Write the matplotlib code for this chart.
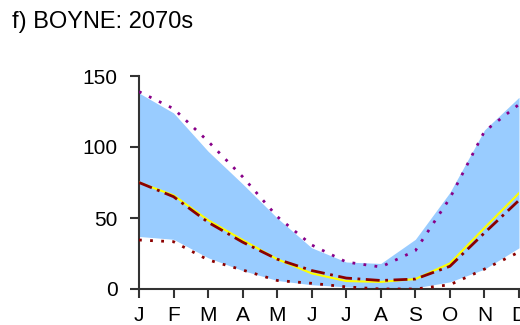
from matplotlib import pyplot as plt
import numpy as np

# monthly values
months = ["J", "F", "M", "A", "M", "J", "J", "A", "S", "O", "N", "D"]
band_high = [138, 124, 97, 74, 50, 29, 19, 18, 35, 68, 112, 135]
band_low = [37, 35, 22, 13, 6, 3, 1.5, 0.5, 0.8, 5, 14, 29]
mean_line = [75, 66, 48.5, 34.5, 21, 11, 5.6, 5, 7, 18, 43, 67.5]
central_line = [75, 65, 47, 33, 21, 13, 7.7, 6, 7, 16, 39.5, 62.5]
upper_line = [139, 127, 104, 79, 51, 31, 19, 15.5, 27, 64, 111, 130]
lower_line = [34.5, 33.3, 20.5, 13.4, 6, 4, 1.5, 0, 0, 3, 14, 26]

plt.rcParams['font.family'] = ['Liberation Sans', 'DejaVu Sans']

fig = plt.figure(figsize=(5.2, 3.25), dpi=100)
ax = fig.add_axes([139 / 520, 36 / 325, 380 / 520, 213 / 325])

x = np.arange(len(months))
ax.fill_between(x, band_low, band_high, color='#99ccff', lw=0, zorder=1)
ax.plot(x, upper_line, color='#880088', lw=2, linestyle=(0, (1, 3)), zorder=3)
ax.plot(x, lower_line, color='#8b0000', lw=2, linestyle=(0, (1, 3)), zorder=3)
ax.plot(x, mean_line, color='#ffff00', lw=1.5, zorder=4)
ax.plot(x, central_line, color='#8b0000', lw=2, linestyle=(0, (5, 2, 1, 2)), zorder=5)

ax.set_xlim(0, 11)
ax.set_ylim(0, 150)
ax.set_xticks(x)
ax.set_xticklabels(months)
ax.set_yticks([0, 50, 100, 150])

for s in ['top', 'right']:
	ax.spines[s].set_visible(False)
for s in ['left', 'bottom']:
	ax.spines[s].set_color('#333333')
	ax.spines[s].set_linewidth(1.5)

ax.tick_params(axis='both', direction='out', length=6.5, width=1.5, color='#333333', labelsize=15)
ax.tick_params(axis='x', pad=5.5)
ax.tick_params(axis='y', pad=9)

fig.text(12 / 520, 1 - 22 / 325, "f) BOYNE: 2070s", fontsize=17, ha='left', va='center')

fig.savefig("out.png", dpi=100)
